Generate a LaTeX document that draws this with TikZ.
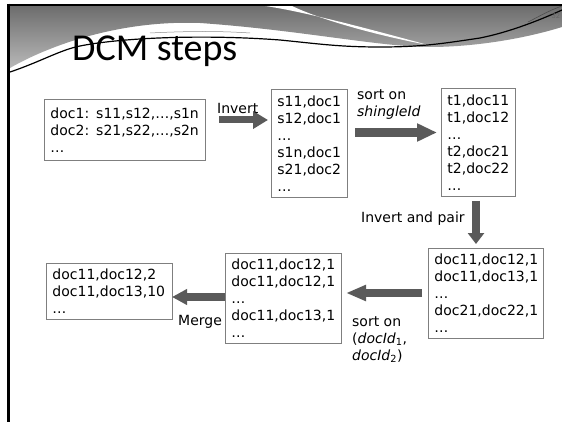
\documentclass[tikz,border=0pt]{standalone}
\usepackage{fontspec}
\setmainfont{DejaVu Sans}
\newfontfamily\titlefont{Carlito}
\usetikzlibrary{arrows.meta}
\definecolor{boxline}{HTML}{7F7F7F}
\definecolor{arrowgray}{HTML}{5A5A5A}
\definecolor{hdark}{HTML}{6C6C6C}
\definecolor{hlight}{HTML}{B8B8B8}
\begin{document}
\begin{tikzpicture}[x=1pt,y=-1pt,
  box/.style={draw=boxline, line width=0.9pt, fill=white, anchor=north west, align=left,
    inner xsep=6pt, inner ysep=0pt, font=\fontsize{14}{17}\selectfont},
  lbl/.style={anchor=north west, align=left, inner sep=0pt, font=\fontsize{14}{17}\selectfont},
  barrow/.style={draw=arrowgray, line width=#1, arrowgray},
]
\useasboundingbox (0,0) rectangle (562,422);
\fill[white] (0,0) rectangle (562,422);
% header
\shade[top color=hdark, bottom color=hlight]
  (10,5) -- (562,5) -- (562,27) .. controls (520,40) and (470,47) .. (430,47)
  .. controls (380,47) and (300,30) .. (200,23)
  .. controls (120,20) and (50,45) .. (10,68) -- cycle;
\fill[white] (258,5) .. controls (300,10) and (380,32) .. (428,45)
  .. controls (380,36) and (320,20) .. (290,5) -- cycle;
\draw[line width=1.2pt] (10,72) .. controls (40,62) and (60,50) .. (80,46)
  .. controls (120,38) and (200,34) .. (280,40)
  .. controls (320,44) and (340,47) .. (380,47)
  .. controls (420,47) and (440,44) .. (480,38)
  .. controls (510,32) and (540,20) .. (562,10);
\draw[line width=0.6pt, black!70] (528,22) .. controls (540,16) and (550,10) .. (562,6);
\draw[line width=0.5pt, black!45] (150,33) .. controls (190,31) and (220,31) .. (250,33);
\node[anchor=base east, inner sep=0pt, text=black!60, font=\titlefont\fontsize{8}{9}\selectfont] (pnum) at (560,19) {32};
\draw[line width=2.8pt] (7.5,5) -- (562,5);
\draw[line width=2.6pt] (8.7,3.6) -- (8.7,422);
\node[anchor=base west, inner sep=0pt, font=\titlefont\fontsize{38}{40}\selectfont] (title) at (72,61) {DCM steps};
% boxes
\node[box, text width=149pt, minimum height=61pt] (b1) at (44,99)
  {doc1: s11,s12,…,s1n\\doc2: s21,s22,…,s2n\\…};
\node[box, text width=64pt, minimum height=108pt] (b2) at (271,89)
  {s11,doc1\\s12,doc1\\…\\s1n,doc1\\s21,doc2\\…};
\node[box, text width=62pt, minimum height=108pt] (b3) at (441,88)
  {t1,doc11\\t1,doc12\\…\\t2,doc21\\t2,doc22\\…};
\node[box, text width=103pt, minimum height=90pt] (b4) at (428,248)
  {doc11,doc12,1\\doc11,doc13,1\\…\\doc21,doc22,1\\…};
\node[box, text width=104pt, minimum height=90pt] (b5) at (225,253)
  {doc11,doc12,1\\doc11,doc12,1\\…\\doc11,doc13,1\\…};
\node[box, text width=114pt, minimum height=56pt] (b6) at (46,263)
  {doc11,doc12,2\\doc11,doc13,10\\…};
% arrows
\coordinate (a1s) at (219,120); \coordinate (a1e) at (268,120);
\coordinate (a2s) at (355,132.5); \coordinate (a2e) at (437,132.5);
\coordinate (a3s) at (476,201); \coordinate (a3e) at (476,244);
\coordinate (a4s) at (422,293); \coordinate (a4e) at (346,293);
\coordinate (a5s) at (225,297); \coordinate (a5e) at (172,297);
\draw[barrow=7pt, -{Triangle[length=15pt,width=17pt]}] (a1s) -- (a1e);
\draw[barrow=8.5pt, -{Triangle[length=20pt,width=17pt]}] (a2s) -- (a2e);
\draw[barrow=8pt, -{Triangle[length=11pt,width=16pt]}] (a3s) -- (a3e);
\draw[barrow=8pt, -{Triangle[length=20pt,width=15pt]}] (a4s) -- (a4e);
\draw[barrow=8pt, -{Triangle[length=15pt,width=15pt]}] (a5s) -- (a5e);
% labels
\node[lbl] (l1) at (217,101) {\strut Invert};
\node[lbl] (l2) at (357,87) {\strut sort on\\\textit{shingleId}};
\node[lbl] (l3) at (361,210) {\strut Invert and pair};
\node[lbl] (l4) at (352,314) {\strut sort on\\(\textit{docId}\textsubscript{1},\\\textit{docId}\textsubscript{2})};
\node[lbl] (l5) at (178,313) {\strut Merge};
\end{tikzpicture}
\end{document}
